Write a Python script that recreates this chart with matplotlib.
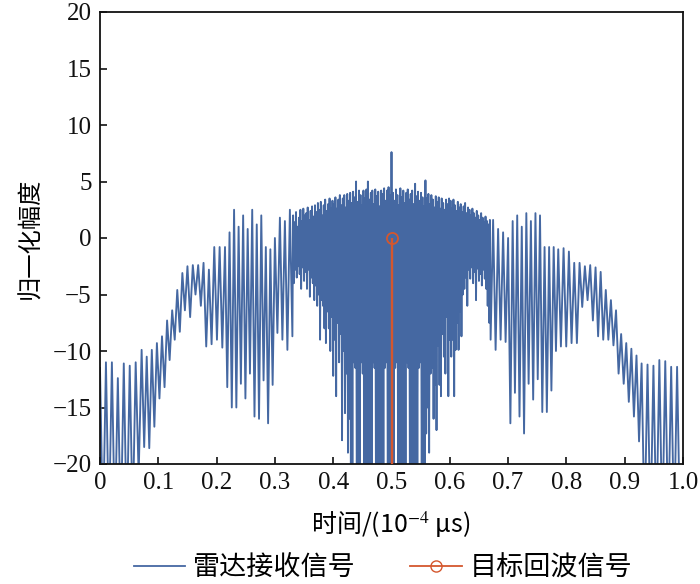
import numpy as np
import matplotlib
matplotlib.use("Agg")
import matplotlib.pyplot as plt
from matplotlib.lines import Line2D

# ---------------- data ----------------
# time boundaries of each stretch of the received signal (10^-4 us)
seg_bounds = [0.0, 0.0714, 0.150, 0.2144, 0.300, 0.330, 0.400, 0.500,
              0.600, 0.670, 0.700, 0.786, 0.850, 0.929, 1.000]

# alternating peak / trough amplitudes in each stretch
amp_0 = [-11.5, -26, -11.0, -26, -11.0, -26, -12.4, -26, -11.1, -26,
         -11.3, -25, -11.0, -21, -9.9]
amp_1 = [-18.5, -10.5, -18.6, -9.9, -16.7, -9.3, -14.2, -8.7, -13.2, -7.3,
         -10.8, -6.4, -9.0, -4.6, -8.3, -3.1, -6.4, -2.5]
amp_2 = [-7.0, -2.4, -5.0, -2.4, -6.0, -2.2, -9.6, -2.8, -9.4, -0.8,
         -9.0, -0.8, -9.7, -0.8]
amp_3 = [-13.2, 0.5, -15.0, 2.5, -15.0, 1.0, -12.9, 2.0, -14.2, 0.8,
         -12.0, 2.5, -15.8, 1.2, -16.0, 2.0, -12.6, -0.8, -16.4, -1.0,
         -13.0, 0.0]
amp_4 = [-8.4, 1.8, -9.0, 1.5, -9.9, 2.5, -8.7]

peaks_5a = [2.0, 1.4, 2.3, 1.0, 1.8, 2.5, 1.5, 2.6, 2.0, 2.2,
            2.7, 1.6, 2.4, 2.8, 1.9, 2.9, 2.3, 3.1, 2.5, 3.2,
            2.0, 2.9, 3.4, 2.4, 3.0, 3.5, 2.6, 3.3]
troughs_5a = [-4.0, -2.8, -3.5, -2.5, -3.2, -4.5, -2.6, -3.8, -3.0, -4.5,
              -2.8, -5.2, -3.5, -4.0, -5.5, -4.2, -6.0, -5.0, -9.0, -5.5,
              -6.0, -8.0, -9.3, -6.5, -8.0, -10.0, -7.0, -12.2]
peaks_5b = [3.0, 3.6, 2.6, 3.4, 3.8, 2.9, 3.5, 3.8, 2.7, 3.9,
            3.3, 4.0, 3.1, 4.1, 3.6, 5.0, 3.2, 4.2, 3.8, 2.9,
            4.2, 3.5, 4.3, 5.0, 3.4, 4.0, 4.2, 3.0, 4.3, 3.7,
            4.1, 2.8, 4.2, 3.9, 4.4, 3.3, 4.2, 4.5, 3.8, 7.6]
troughs_5b = [-9.0, -14.0, -7.5, -11.0, -8.5, -17.9, -10.0, -15.5, -12.0, -19.0,
              -16.0, -24, -24, -11.0, -11.5, -24, -24, -24, -11.0, -12.0,
              -24, -24, -24, -24, -24, -24, -11.0, -11.5, -24, -24,
              -24, -24, -24, -24, -11.5, -11.0, -24, -24, -24]
troughs_6b = [-24, -24, -11.5, -11.0, -24, -24, -24, -24, -24, -24,
              -11.0, -11.5, -24, -24, -24, -24, -24, -24, -11.5, -11.0,
              -24, -24, -21.0, -17.3, -15.0, -19.0, -12.0, -11.5, -16.0, -13.0,
              -17.0, -9.5, -13.0, -14.0, -8.5, -10.5, -12.0, -7.0, -14.0, -9.0]
peaks_6b = [4.0, 3.3, 4.3, 3.8, 2.9, 4.4, 3.6, 4.2, 3.1, 4.0,
            4.3, 3.4, 3.9, 4.2, 3.0, 4.8, 3.7, 4.1, 3.3, 4.0,
            3.6, 2.8, 5.1, 3.5, 3.9, 3.0, 3.8, 3.4, 2.7, 3.7,
            3.2, 3.6, 2.6, 3.5, 3.1, 2.5, 3.4, 3.0, 3.5]
peaks_6a = [3.3, 2.6, 3.4, 2.9, 2.4, 3.2, 2.7, 3.0, 2.3, 2.8,
            3.1, 2.2, 2.7, 2.5, 2.0, 2.6, 2.2, 1.8, 2.4, 2.0,
            1.6, 2.2, 1.8, 1.4, 1.9, 1.5, 1.2, 1.6]
troughs_6a = [-10.5, -9.0, -14.0, -9.9, -7.5, -9.9, -6.5, -8.7, -5.0, -4.5,
              -3.5, -6.0, -2.8, -3.6, -2.6, -4.0, -3.0, -5.5, -2.7, -3.8,
              -3.2, -4.2, -2.8, -3.6, -4.5, -6.0, -7.5, -9.0]

amp_7 = [1.6, -9.9, 0.8, -9.0, 0.5, -9.2, 0.0]
amp_8 = [-16.4, 1.5, -13.7, 2.0, -15.8, 1.0, -17.3, 2.2, -12.9, 1.5,
         -14.3, 2.2, -12.5, 2.0, -15.4, -0.8, -15.4, -0.8, -13.5, -0.8,
         -10.0, -1.0]
amp_9 = [-9.6, -0.9, -9.6, -1.2, -9.3, -2.2, -9.3, -2.2, -6.1, -2.5,
         -5.5, -2.4, -7.3, -2.6]
amp_10 = [-8.7, -3.0, -9.0, -4.6, -9.0, -5.5, -9.5, -6.4, -12.0, -8.5,
          -12.9, -9.3, -14.5, -9.8, -15.8, -10.4, -18.0, -11.1]
amp_11 = [-26, -11.2, -26, -11.3, -26, -10.8, -26, -10.9, -26, -11.4,
          -26, -11.4, -26, -24]

# target echo
target_x = [0.5]
target_y = [0.0]

x_ticks = [0, 0.1, 0.2, 0.3, 0.4, 0.5, 0.6, 0.7, 0.8, 0.9, 1.0]
x_tick_labels = ["0", "0.1", "0.2", "0.3", "0.4", "0.5", "0.6", "0.7", "0.8", "0.9", "1.0"]
y_ticks = [-20, -15, -10, -5, 0, 5, 10, 15, 20]
y_tick_labels = ["\u221220", "\u221215", "\u221210", "\u22125", "0", "5", "10", "15", "20"]

legend_labels = ["雷达接收信号", "目标回波信号"]
x_label = "时间/(10$^{-4}$ μs)"
y_label = "归一化幅度"


# ---------------- assemble the polyline ----------------
def interleave(first, second):
    out = []
    for i in range(len(second)):
        out += [first[i], second[i]]
    if len(first) > len(second):
        out.append(first[-1])
    return out


amp_5a = interleave(peaks_5a, troughs_5a)
amp_5b = interleave(peaks_5b, troughs_5b)
amp_6b = interleave(troughs_6b, peaks_6b)
amp_6a = interleave(peaks_6a, troughs_6a)

segments = [amp_0, amp_1, amp_2, amp_3, amp_4, amp_5a, amp_5b, amp_6b, amp_6a,
            amp_7, amp_8, amp_9, amp_10, amp_11]
t_all, s_all = [], []
for i, seg in enumerate(segments):
    a, b = seg_bounds[i], seg_bounds[i + 1]
    if i == 0:
        t = np.linspace(a, b, len(seg))
    else:
        t = np.linspace(a, b, len(seg) + 1)[1:]
    t_all.extend(t)
    s_all.extend(seg)

# ---------------- figure ----------------
plt.rcParams["font.family"] = ["Liberation Serif", "Noto Sans CJK SC", "DejaVu Sans"]
plt.rcParams["mathtext.fontset"] = "stix"
plt.rcParams["axes.unicode_minus"] = True
plt.rcParams["path.simplify"] = False

blue = "#4568A2"
red = "#D4572E"
cjk = ["Noto Sans CJK SC", "DejaVu Sans"]

fig = plt.figure(figsize=(7.0, 5.84), dpi=100)
ax = fig.add_axes([100 / 700, 1 - 464 / 584, 583 / 700, 452 / 584])

ax.plot(t_all, s_all, color=blue, lw=1.35, zorder=2)
ax.vlines(target_x, -20, target_y, color=red, lw=1.7, zorder=3)
ax.plot(target_x, target_y, "o", ms=8, mfc="none", mec=red, mew=1.3, zorder=4)

ax.set_xlim(0, 1)
ax.set_ylim(-20, 20)
ax.set_xticks(x_ticks)
ax.set_xticklabels(x_tick_labels)
ax.set_yticks(y_ticks)
ax.set_yticklabels(y_tick_labels)
ax.tick_params(direction="in", length=5, width=1.2, labelsize=18,
               top=False, right=False, pad=6, colors="#111111")
for sp in ax.spines.values():
    sp.set_linewidth(1.3)
    sp.set_color("#111111")

fig.text(391 / 700, 1 - 525 / 584, x_label, ha="center", va="center", fontsize=18,
         family=["Noto Sans CJK SC", "DejaVu Sans"])
fig.text(30 / 700, 1 - 238 / 584, y_label, ha="center", va="center", fontsize=17.5,
         rotation=90, family=cjk)

handles = [Line2D([], [], color=blue, lw=1.3),
           Line2D([], [], color=red, lw=1.3, marker="o", ms=8, mfc="none", mec=red)]
leg = fig.legend(handles, legend_labels, loc="center", bbox_to_anchor=(383 / 700, 1 - 568 / 584),
                 ncol=2, frameon=False, prop={"family": cjk, "size": 19.5},
                 handlelength=1.9, handletextpad=0.3, columnspacing=2.0)

fig.savefig("out.png", dpi=100)
